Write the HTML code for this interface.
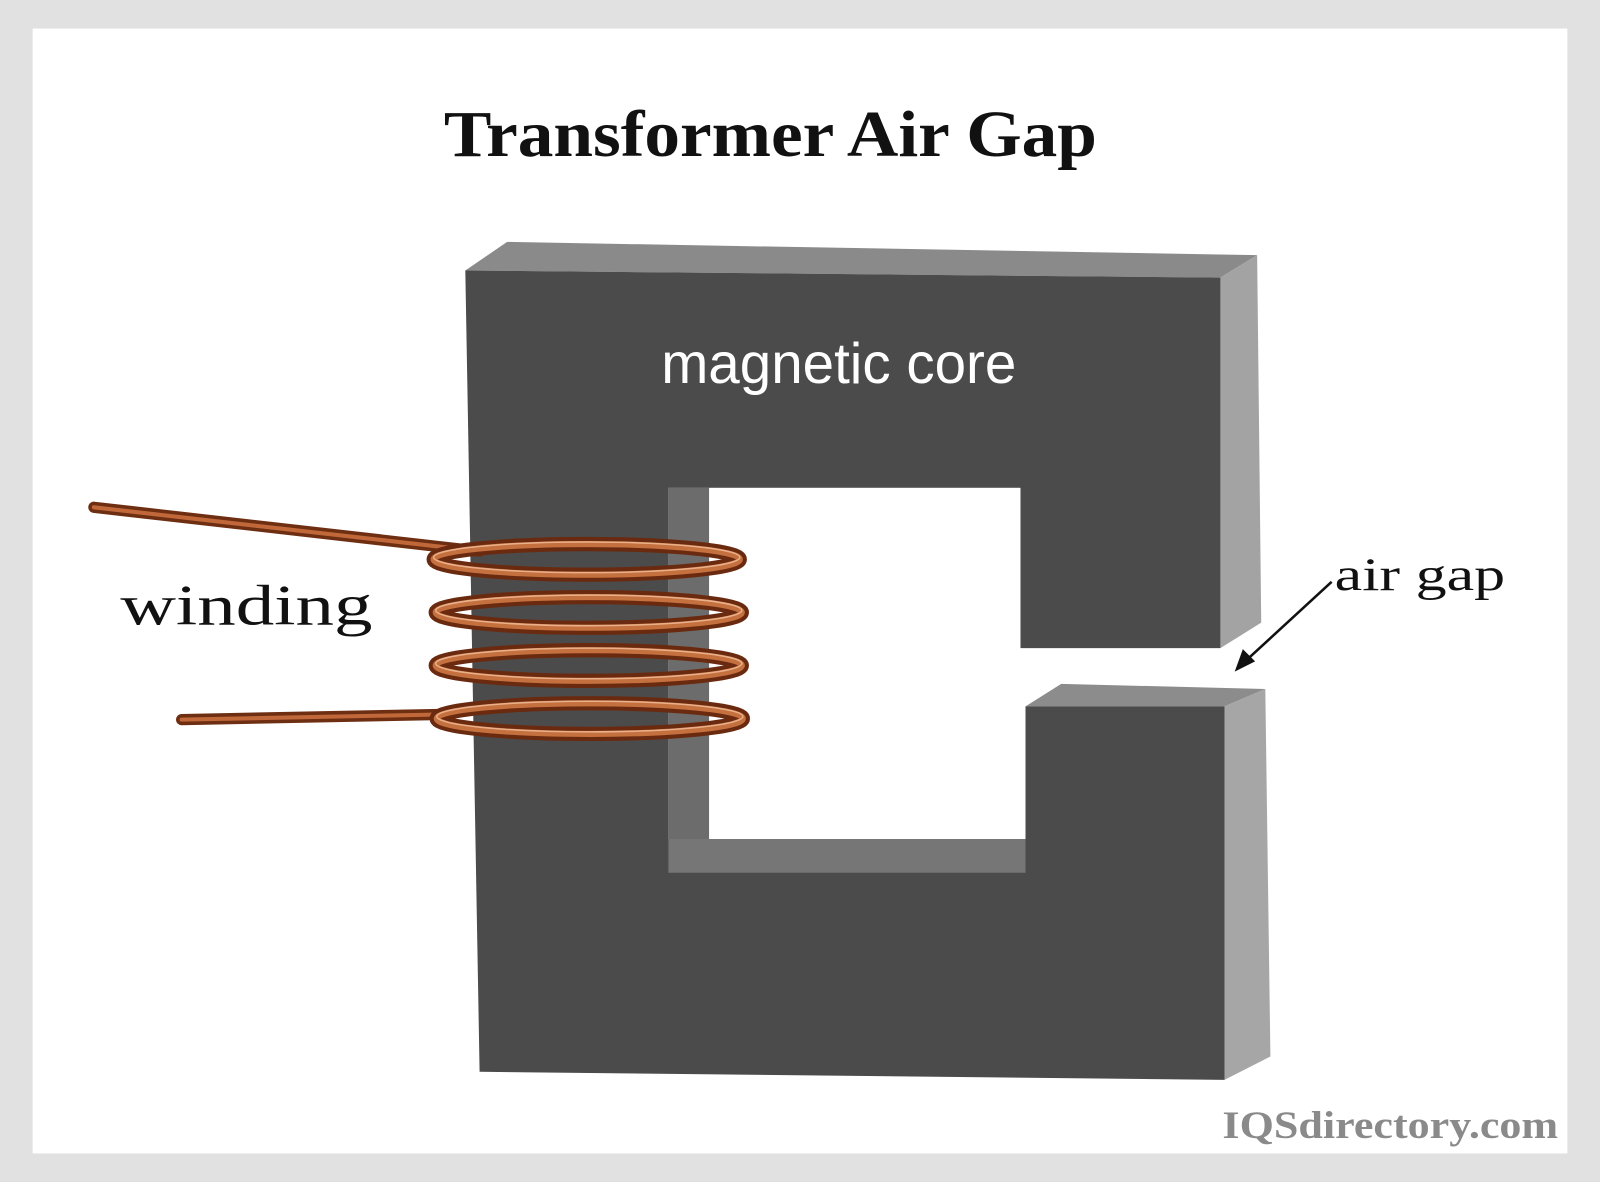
<!DOCTYPE html>
<html><head><meta charset="utf-8"><style>
html,body{margin:0;padding:0;background:#e1e1e1;}
svg{display:block;}
</style></head><body>
<svg width="1600" height="1182" viewBox="0 0 1568 1158" preserveAspectRatio="none" xmlns="http://www.w3.org/2000/svg">
<rect x="0" y="0" width="1568" height="1158" fill="#e1e1e1"/>
<rect x="32" y="28" width="1504" height="1102" fill="#ffffff"/>
<text x="755" y="153" text-anchor="middle" font-family="Liberation Serif, serif" font-weight="bold" font-size="64" fill="#111" textLength="640" lengthAdjust="spacingAndGlyphs">Transformer Air Gap</text>

<polygon points="456,265 497,237 1232,250 1196,272" fill="#8a8a8a"/>
<polygon points="1196,272 1232,250 1236,610 1196,635" fill="#a3a3a3"/>
<polygon points="1005,692 1040,670 1240,675 1200,692" fill="#8c8c8c"/>
<polygon points="1200,692 1240,675 1245,1035 1200,1058" fill="#a6a6a6"/>
<polygon points="456,265 1196,272 1196,635 1000,635 1000,478 655,478 655,822 1005,822 1005,692 1200,692 1200,1058 470,1050" fill="#4b4b4b"/>
<polygon points="655,478 695,478 695,822 655,822" fill="#6c6c6c"/>
<polygon points="695,478 1000,478 1000,822 695,822" fill="#ffffff"/>
<polygon points="655,822 1005,822 1005,855 655,855" fill="#767676"/>

<text x="822" y="375" text-anchor="middle" font-family="Liberation Sans Narrow, Liberation Sans, sans-serif" font-size="56" fill="#ffffff" textLength="348" lengthAdjust="spacingAndGlyphs">magnetic core</text>

<g fill="none" stroke-linecap="round">
<path d="M92,497 L470,540" stroke="#6e2e12" stroke-width="11"/>
<path d="M92,497 L470,540" stroke="#c0683a" stroke-width="4"/>
<path d="M178,705 L430,700" stroke="#6e2e12" stroke-width="11"/>
<path d="M178,705 L430,700" stroke="#c0683a" stroke-width="4"/>
<g stroke="#6a2a10" stroke-width="14">
<ellipse cx="575" cy="548" rx="150" ry="15"/>
<ellipse cx="577" cy="600" rx="150" ry="15"/>
<ellipse cx="577" cy="652" rx="150" ry="15"/>
<ellipse cx="578" cy="704" rx="150" ry="15"/>
</g>
<g stroke="#c4703f" stroke-width="6">
<ellipse cx="575" cy="548" rx="150" ry="15"/>
<ellipse cx="577" cy="600" rx="150" ry="15"/>
<ellipse cx="577" cy="652" rx="150" ry="15"/>
<ellipse cx="578" cy="704" rx="150" ry="15"/>
</g>
<g stroke="#eab08a" stroke-width="1.5">
<ellipse cx="575" cy="546" rx="150" ry="15"/>
<ellipse cx="577" cy="598" rx="150" ry="15"/>
<ellipse cx="577" cy="650" rx="150" ry="15"/>
<ellipse cx="578" cy="702" rx="150" ry="15"/>
</g>
</g>

<text x="118" y="612" font-family="Liberation Serif, serif" font-size="56" fill="#111" textLength="247" lengthAdjust="spacingAndGlyphs">winding</text>
<text x="1308" y="578" font-family="Liberation Serif, serif" font-size="46" fill="#111" textLength="167" lengthAdjust="spacingAndGlyphs">air gap</text>
<line x1="1305" y1="570" x2="1218" y2="650" stroke="#111" stroke-width="2.5"/>
<polygon points="1210,658 1218,636 1230,648" fill="#111"/>
<text x="1527" y="1115" text-anchor="end" font-family="Liberation Serif, serif" font-weight="bold" font-size="38" fill="#8a8a8a" textLength="329" lengthAdjust="spacingAndGlyphs">IQSdirectory.com</text>
</svg>
</body></html>
